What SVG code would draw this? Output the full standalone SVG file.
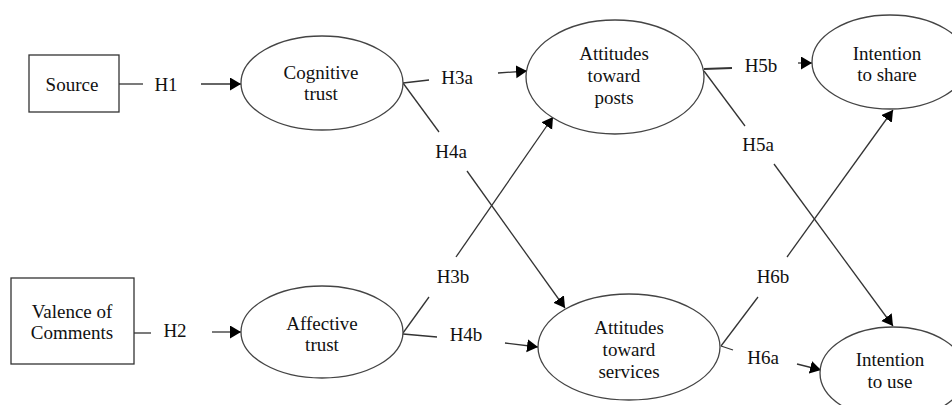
<svg xmlns="http://www.w3.org/2000/svg" width="952" height="405" viewBox="0 0 952 405">
<defs>
<marker id="ah" markerUnits="userSpaceOnUse" markerWidth="12" markerHeight="14" refX="11" refY="6.5" orient="auto">
<path d="M0,0 L11,6.5 L0,13 z" fill="#000"/>
</marker>
<style>
.box{fill:#fff;stroke:#333;stroke-width:1.3}
.ell{fill:#fff;stroke:#444;stroke-width:1.3}
.t{font-family:"Liberation Serif","Times New Roman",serif;font-size:19px;fill:#111;text-anchor:middle;dominant-baseline:central}
.c{stroke:#333;stroke-width:1.3;fill:none}
.a{stroke:#333;stroke-width:1.3;fill:none;marker-end:url(#ah)}
</style>
</defs>
<rect width="952" height="405" fill="#fff"/>
<g id="connectors">
<line class="c" x1="119" y1="84" x2="143" y2="84"/>
<line class="a" x1="201" y1="84" x2="241" y2="84"/>
<line class="c" x1="134" y1="333" x2="151" y2="333"/>
<line class="a" x1="212" y1="332" x2="241" y2="332"/>
<line class="c" x1="403" y1="83" x2="429" y2="80"/>
<line class="a" x1="498" y1="73" x2="527" y2="71"/>
<line class="c" x1="403" y1="83" x2="439" y2="132"/>
<line class="a" x1="467" y1="171" x2="565" y2="308"/>
<line class="c" x1="403" y1="333" x2="429" y2="297"/>
<line class="a" x1="456" y1="257" x2="553" y2="117"/>
<line class="c" x1="403" y1="334" x2="437" y2="337"/>
<line class="a" x1="505" y1="343" x2="538" y2="347"/>
<line class="c" x1="704" y1="69" x2="732" y2="68" style="stroke-width:2"/>
<line class="a" x1="798" y1="63" x2="812" y2="63"/>
<line class="c" x1="704" y1="71" x2="745" y2="126"/>
<line class="a" x1="774" y1="164" x2="893" y2="326"/>
<line class="c" x1="721" y1="346" x2="758" y2="297"/>
<line class="a" x1="787" y1="257" x2="893" y2="110"/>
<line class="c" x1="721" y1="346" x2="733" y2="350"/>
<line class="a" x1="797" y1="364" x2="821" y2="370"/>
<text class="t" x="166" y="84">H1</text>
<text class="t" x="175" y="330">H2</text>
<text class="t" x="457" y="77">H3a</text>
<text class="t" x="451" y="151">H4a</text>
<text class="t" x="453" y="276">H3b</text>
<text class="t" x="466" y="334">H4b</text>
<text class="t" x="761" y="65">H5b</text>
<text class="t" x="758" y="144">H5a</text>
<text class="t" x="773" y="276">H6b</text>
<text class="t" x="763" y="357">H6a</text>
</g>
<g id="source">
<rect class="box" x="29" y="55" width="90" height="57"/>
<text class="t" x="72" y="84">Source</text>
</g>
<g id="valence">
<rect class="box" x="11" y="278" width="123" height="86"/>
<text class="t" x="72" y="311">Valence of</text>
<text class="t" x="72" y="332">Comments</text>
</g>
<g id="cognitive">
<ellipse class="ell" cx="322" cy="83" rx="81" ry="47"/>
<text class="t" x="321" y="72">Cognitive</text>
<text class="t" x="321" y="93">trust</text>
</g>
<g id="affective">
<ellipse class="ell" cx="322" cy="332" rx="81" ry="46"/>
<text class="t" x="322" y="323">Affective</text>
<text class="t" x="322" y="344">trust</text>
</g>
<g id="posts">
<ellipse class="ell" cx="615" cy="77" rx="89" ry="57"/>
<text class="t" x="614" y="53">Attitudes</text>
<text class="t" x="614" y="75">toward</text>
<text class="t" x="614" y="97">posts</text>
</g>
<g id="services">
<ellipse class="ell" cx="629" cy="347" rx="91" ry="53"/>
<text class="t" x="629" y="327">Attitudes</text>
<text class="t" x="629" y="349">toward</text>
<text class="t" x="629" y="371">services</text>
</g>
<g id="share">
<ellipse class="ell" cx="890" cy="62" rx="78" ry="47"/>
<text class="t" x="887" y="53">Intention</text>
<text class="t" x="887" y="74">to share</text>
</g>
<g id="use">
<ellipse class="ell" cx="893" cy="373" rx="73" ry="46"/>
<text class="t" x="890" y="359">Intention</text>
<text class="t" x="890" y="381">to use</text>
</g>
</svg>
